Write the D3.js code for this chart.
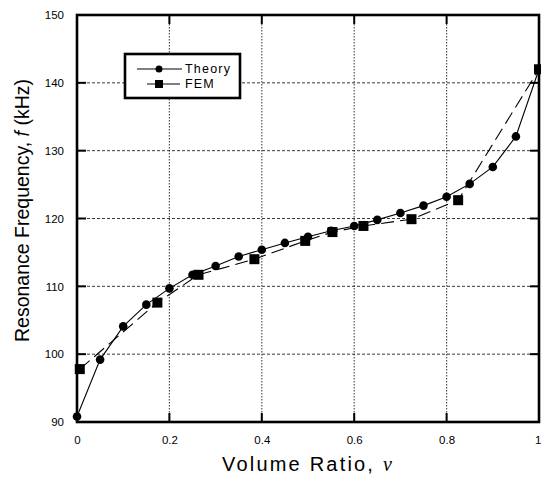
<!DOCTYPE html>
<html>
<head>
<meta charset="utf-8">
<script src="https://cdn.jsdelivr.net/npm/d3@7"></script>
<style>
html,body{margin:0;padding:0;background:#fff;}
svg{display:block;font-family:"Liberation Sans",Arial,sans-serif;}
</style>
</head>
<body>
<svg id="chart" width="541" height="480"></svg>
<script>
// Data
const theoryX = [0,0.05,0.1,0.15,0.2,0.25,0.3,0.35,0.4,0.45,0.5,0.55,0.6,0.65,0.7,0.75,0.8,0.85,0.9,0.95,1.0];
const theoryY = [90.8,99.2,104.1,107.3,109.7,111.7,113.0,114.4,115.4,116.4,117.3,118.2,118.9,119.8,120.8,121.9,123.2,125.1,127.6,132.1,142.0];
const femX = [0.006,0.174,0.263,0.384,0.494,0.553,0.62,0.724,0.825,1.0];
const femY = [97.8,107.6,111.7,114.0,116.7,118.0,118.9,119.9,122.7,142.0];
const xTicks = [0,0.2,0.4,0.6,0.8,1];
const xTickLabels = ["0","0.2","0.4","0.6","0.8","1"];
const yTicks = [90,100,110,120,130,140,150];
const seriesNames = ["Theory","FEM"];

const svg = d3.select("#chart");
const m = {left:77, right:2, top:15, bottom:58};
const W = 541, H = 480;
const x = d3.scaleLinear().domain([0,1]).range([m.left, W-m.right]);
const y = d3.scaleLinear().domain([90,150]).range([H-m.bottom, m.top]);

// grid
const g = svg.append("g");
g.selectAll(".vg").data(xTicks.slice(1,-1)).enter().append("line")
  .attr("x1",d=>x(d)).attr("x2",d=>x(d)).attr("y1",y(150)).attr("y2",y(90))
  .attr("stroke","#555").attr("stroke-width",1.2).attr("stroke-dasharray","1.5,1.5");
g.selectAll(".hg").data(yTicks.slice(1,-1)).enter().append("line")
  .attr("x1",x(0)).attr("x2",x(1)).attr("y1",d=>y(d)).attr("y2",d=>y(d))
  .attr("stroke","#222").attr("stroke-width",0.9).attr("stroke-dasharray","3,2");

// axes via d3 axis (labels only), then inner ticks
const xAxis = d3.axisBottom(x).tickValues(xTicks).tickFormat((d,i)=>xTickLabels[i]).tickSize(0).tickPadding(14);
const gx = svg.append("g").attr("transform",`translate(0,${y(90)})`).call(xAxis);
gx.select(".domain").remove();
gx.selectAll("text").attr("font-size",11.5).attr("font-family","Liberation Sans, Arial, sans-serif").attr("fill","#000");
gx.selectAll(".tick").filter(d=>d===1).select("text").attr("text-anchor","end").attr("dx","2");

const yAxis = d3.axisLeft(y).tickValues(yTicks).tickFormat(d3.format("d")).tickSize(0).tickPadding(13);
const gy = svg.append("g").attr("transform",`translate(${x(0)},0)`).call(yAxis);
gy.select(".domain").remove();
gy.selectAll("text").attr("font-size",11.5).attr("font-family","Liberation Sans, Arial, sans-serif").attr("fill","#000");

// inner ticks on all four sides
const tl = 9;
svg.append("g").selectAll("line").data(xTicks).enter().append("line")
  .attr("x1",d=>x(d)).attr("x2",d=>x(d)).attr("y1",y(90)).attr("y2",y(90)-tl)
  .attr("stroke","#000").attr("stroke-width",2);
svg.append("g").selectAll("line").data(xTicks).enter().append("line")
  .attr("x1",d=>x(d)).attr("x2",d=>x(d)).attr("y1",y(150)).attr("y2",y(150)+tl)
  .attr("stroke","#000").attr("stroke-width",2);
svg.append("g").selectAll("line").data(yTicks).enter().append("line")
  .attr("x1",x(0)).attr("x2",x(0)+tl).attr("y1",d=>y(d)).attr("y2",d=>y(d))
  .attr("stroke","#000").attr("stroke-width",2);
svg.append("g").selectAll("line").data(yTicks).enter().append("line")
  .attr("x1",x(1)).attr("x2",x(1)-tl).attr("y1",d=>y(d)).attr("y2",d=>y(d))
  .attr("stroke","#000").attr("stroke-width",2);

// frame
svg.append("rect").attr("x",x(0)).attr("y",y(150)).attr("width",x(1)-x(0)).attr("height",y(90)-y(150))
  .attr("fill","none").attr("stroke","#000").attr("stroke-width",2.6);

// series
const theory = theoryX.map((v,i)=>[v,theoryY[i]]);
const fem = femX.map((v,i)=>[v,femY[i]]);
const line = d3.line().x(d=>x(d[0])).y(d=>y(d[1]));

svg.append("path").datum(fem).attr("d",line).attr("fill","none")
  .attr("stroke","#000").attr("stroke-width",1.1).attr("stroke-dasharray","13,6");
svg.append("path").datum(theory).attr("d",line).attr("fill","none")
  .attr("stroke","#000").attr("stroke-width",1.1);

svg.append("g").selectAll("rect").data(fem).enter().append("rect")
  .attr("x",d=>x(d[0])-5).attr("y",d=>y(d[1])-5).attr("width",10).attr("height",10).attr("fill","#000");
svg.append("g").selectAll("circle").data(theory).enter().append("circle")
  .attr("cx",d=>x(d[0])).attr("cy",d=>y(d[1])).attr("r",4.3).attr("fill","#000");

// legend
const lg = svg.append("g");
lg.append("rect").attr("x",125).attr("y",54).attr("width",115).attr("height",44)
  .attr("fill","#fff").attr("stroke","#000").attr("stroke-width",2.6);
lg.append("line").attr("x1",137).attr("x2",182).attr("y1",69).attr("y2",69).attr("stroke","#000").attr("stroke-width",1);
lg.append("circle").attr("cx",159).attr("cy",69).attr("r",3.5).attr("fill","#000");
lg.append("line").attr("x1",147).attr("x2",180).attr("y1",84).attr("y2",84).attr("stroke","#000").attr("stroke-width",1);
lg.append("rect").attr("x",155).attr("y",80).attr("width",8).attr("height",8).attr("fill","#000");
lg.selectAll("text").data(seriesNames).enter().append("text")
  .attr("x",185).attr("y",(d,i)=>73+i*15).attr("font-size",12.5).attr("letter-spacing","1.2px")
  .attr("fill","#000").text(d=>d);

// axis titles
const xt = svg.append("text").attr("x",(x(0)+x(1))/2).attr("y",471).attr("text-anchor","middle")
  .attr("font-size",20).attr("letter-spacing","2.2px").attr("fill","#000");
xt.append("tspan").text("Volume Ratio, ");
xt.append("tspan").attr("font-style","italic").attr("font-family","Liberation Serif, serif").text("ν");

const yt = svg.append("text").attr("transform",`translate(29,${(y(90)+y(150))/2 - 8}) rotate(-90)`)
  .attr("text-anchor","middle").attr("font-size",19.5).attr("fill","#000");
yt.append("tspan").text("Resonance Frequency, ");
yt.append("tspan").attr("font-style","italic").text("f");
yt.append("tspan").text(" (kHz)");
</script>
</body>
</html>
